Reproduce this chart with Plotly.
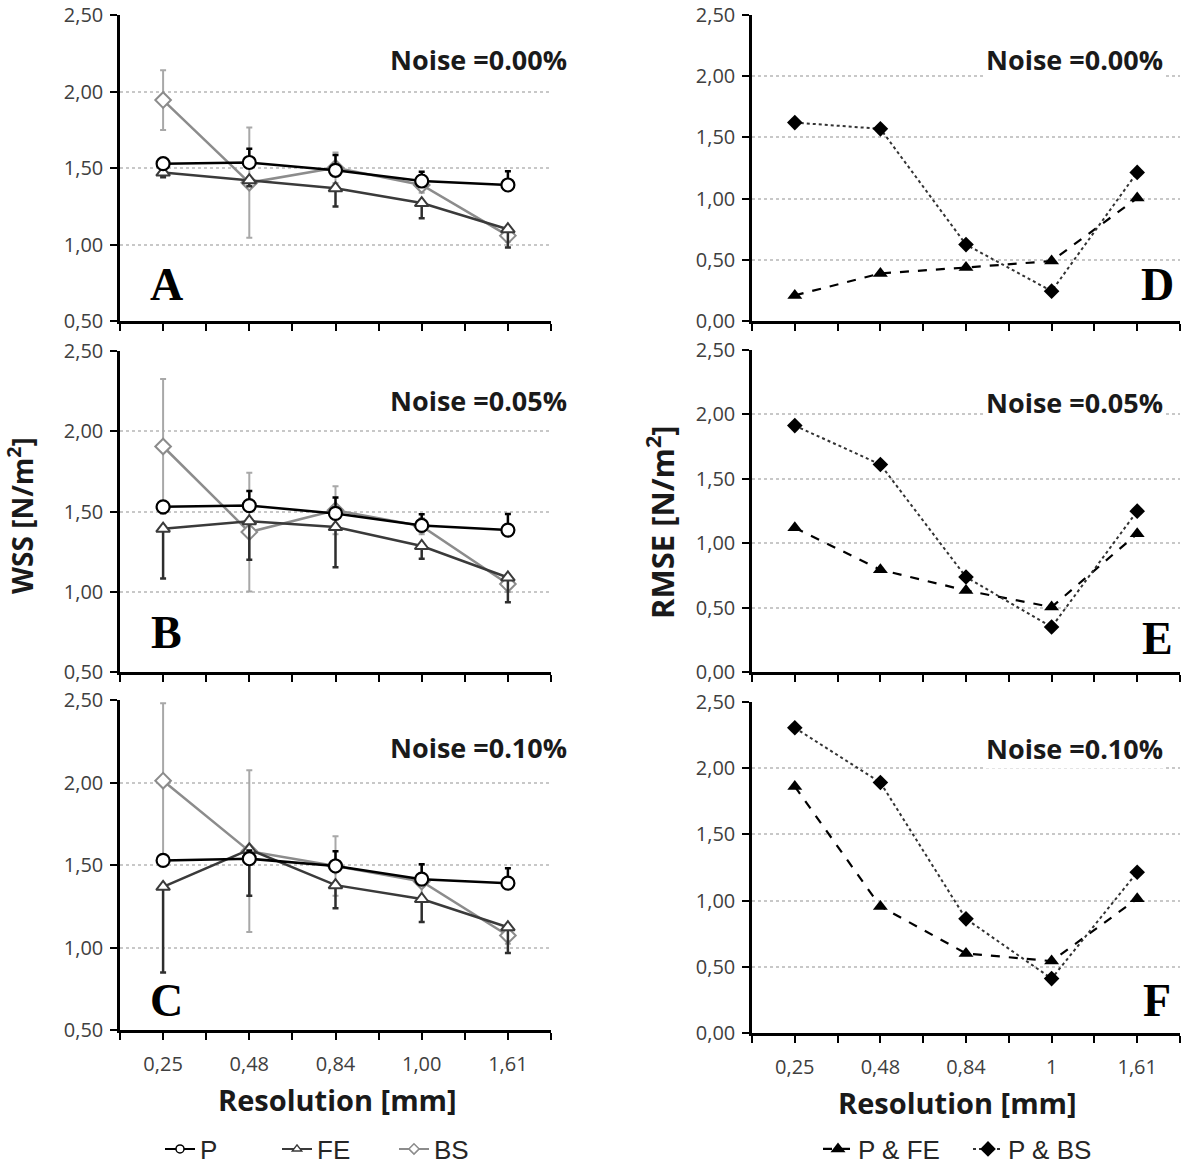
import plotly.graph_objects as go

# ---------------- data ----------------
categories = ["0,25", "0,48", "0,84", "1,00", "1,61"]
rmse_categories = ["0,25", "0,48", "0,84", "1", "1,61"]
y_ticks_wss = [0.5, 1.0, 1.5, 2.0, 2.5]
y_ticks_rmse = [0.0, 0.5, 1.0, 1.5, 2.0, 2.5]
noise_labels = ["Noise =0.00%", "Noise =0.05%", "Noise =0.10%"]
panel_letters_left = ["A", "B", "C"]
panel_letters_right = ["D", "E", "F"]

# WSS, noise 0.00 %
p_a = [1.528, 1.536, 1.485, 1.415, 1.389]
fe_a = [1.470, 1.420, 1.368, 1.271, 1.100]
bs_a = [1.944, 1.404, 1.502, 1.389, 1.058]
p_err_a = [0.03, 0.09, 0.10, 0.06, 0.09]
fe_err_a = [0.03, 0.04, 0.12, 0.10, 0.12]
bs_err_a = [0.195, 0.36, 0.10, 0.05, 0.04]

# WSS, noise 0.05 %
p_b = [1.529, 1.537, 1.488, 1.413, 1.384]
fe_b = [1.393, 1.440, 1.403, 1.285, 1.089]
bs_b = [1.905, 1.372, 1.508, 1.409, 1.048]
p_err_b = [0.03, 0.09, 0.10, 0.07, 0.10]
fe_err_b = [0.31, 0.24, 0.25, 0.08, 0.155]
bs_err_b = [0.42, 0.37, 0.15, 0.05, 0.05]

# WSS, noise 0.10 %
p_c = [1.528, 1.538, 1.494, 1.414, 1.390]
fe_c = [1.368, 1.594, 1.378, 1.294, 1.123]
bs_c = [2.011, 1.584, 1.494, 1.400, 1.073]
p_err_c = [0.03, 0.05, 0.09, 0.09, 0.09]
fe_err_c = [0.52, 0.28, 0.14, 0.14, 0.156]
bs_err_c = [0.47, 0.49, 0.18, 0.10, 0.05]

# RMSE
pfe_d = [0.209, 0.389, 0.437, 0.490, 1.005]
pbs_d = [1.621, 1.570, 0.624, 0.244, 1.214]
pfe_e = [1.119, 0.794, 0.633, 0.504, 1.073]
pbs_e = [1.913, 1.611, 0.737, 0.349, 1.249]
pfe_f = [1.862, 0.956, 0.601, 0.543, 1.014]
pbs_f = [2.305, 1.892, 0.862, 0.411, 1.214]

# ---------------- layout helpers ----------------
W, H = 1200, 1168
TICKFONT = dict(family="Open Sans", size=20, color="#404040")
x_idx = list(range(len(categories)))


def ydom(top_px, bottom_px):
    return [1 - bottom_px / H, 1 - top_px / H]


left_x = [120 / W, 551 / W]
right_x = [752 / W, 1180 / W]
left_y = [ydom(15, 321), ydom(351, 672), ydom(700, 1030)]
right_y = [ydom(15, 321), ydom(350, 672), ydom(702, 1033)]

fig = go.Figure()

wss_sets = [
    (p_a, fe_a, bs_a, p_err_a, fe_err_a, bs_err_a),
    (p_b, fe_b, bs_b, p_err_b, fe_err_b, bs_err_b),
    (p_c, fe_c, bs_c, p_err_c, fe_err_c, bs_err_c),
]
rmse_sets = [(pfe_d, pbs_d), (pfe_e, pbs_e), (pfe_f, pbs_f)]

for i, (p, fe, bs, pe, fee, bse) in enumerate(wss_sets):
    xa = "x" + ("" if i == 0 else str(i + 1))
    ya = "y" + ("" if i == 0 else str(i + 1))
    fig.add_trace(go.Scatter(
        x=x_idx, y=bs, xaxis=xa, yaxis=ya, name="BS", legend="legend",
        mode="lines+markers", showlegend=False,
        line=dict(color="#8c8c8c", width=2.5),
        marker=dict(symbol="diamond", size=12, color="white",
                    line=dict(color="#8c8c8c", width=2)),
        error_y=dict(type="data", array=bse, symmetric=True,
                     color="#a8a8a8", thickness=2, width=3)))
    fig.add_trace(go.Scatter(
        x=x_idx, y=fe, xaxis=xa, yaxis=ya, name="FE", legend="legend",
        mode="lines+markers", showlegend=False,
        line=dict(color="#3a3a3a", width=2.5),
        marker=dict(symbol="triangle-up", size=12, color="white",
                    line=dict(color="#3a3a3a", width=2)),
        error_y=dict(type="data", array=[0] * 5, arrayminus=fee,
                     symmetric=False, color="#2e2e2e", thickness=2.5, width=3)))
    fig.add_trace(go.Scatter(
        x=x_idx, y=p, xaxis=xa, yaxis=ya, name="P", legend="legend",
        mode="lines+markers", showlegend=False,
        line=dict(color="black", width=2.5),
        marker=dict(symbol="circle", size=13, color="white",
                    line=dict(color="black", width=2.2)),
        error_y=dict(type="data", array=pe, arrayminus=[0] * 5,
                     symmetric=False, color="black", thickness=2.5, width=3)))

# legend-only entries (ordered P, FE, BS)
fig.add_trace(go.Scatter(x=[None], y=[None], name="P", legend="legend",
                         mode="lines+markers", line=dict(color="black", width=2),
                         marker=dict(symbol="circle", size=8, color="white",
                                     line=dict(color="black", width=1.5))))
fig.add_trace(go.Scatter(x=[None], y=[None], name="FE", legend="legend",
                         mode="lines+markers", line=dict(color="#3a3a3a", width=2),
                         marker=dict(symbol="triangle-up", size=8, color="white",
                                     line=dict(color="#3a3a3a", width=1.5))))
fig.add_trace(go.Scatter(x=[None], y=[None], name="BS", legend="legend",
                         mode="lines+markers", line=dict(color="#8c8c8c", width=2),
                         marker=dict(symbol="diamond", size=8, color="white",
                                     line=dict(color="#8c8c8c", width=1.5))))

for i, (pfe, pbs) in enumerate(rmse_sets):
    xa = "x" + str(i + 4)
    ya = "y" + str(i + 4)
    show = i == 0
    fig.add_trace(go.Scatter(
        x=x_idx, y=pfe, xaxis=xa, yaxis=ya, name="P & FE", legend="legend2",
        mode="lines+markers", showlegend=show,
        line=dict(color="black", width=2.2, dash="dash"),
        marker=dict(symbol="triangle-up", size=13, color="black")))
    fig.add_trace(go.Scatter(
        x=x_idx, y=pbs, xaxis=xa, yaxis=ya, name="P & BS", legend="legend2",
        mode="lines+markers", showlegend=show,
        line=dict(color="#333333", width=2, dash="dot"),
        marker=dict(symbol="diamond", size=12, color="black")))

# ---------------- axes ----------------
boundary_ticks = [k + 0.5 for k in range(-1, len(categories))]


def xaxis_cfg(domain, anchor, labels, show_labels):
    return dict(domain=domain, anchor=anchor, range=[-0.5, 4.5],
                tickmode="array", tickvals=x_idx, ticktext=labels,
                showticklabels=show_labels,
                ticks="outside", ticklen=7, tickwidth=2, tickcolor="black",
                minor=dict(tickmode="array", tickvals=boundary_ticks,
                           ticks="outside", ticklen=7, tickwidth=2,
                           tickcolor="black", showgrid=False),
                showline=True, linecolor="black", linewidth=2.5,
                showgrid=False, zeroline=False, tickfont=TICKFONT,
                ticklabelstandoff=7, automargin=False,
                ticklabeloverflow="allow")


def yaxis_cfg(domain, anchor, rng, tvals):
    return dict(domain=domain, anchor=anchor, range=rng,
                tickmode="array", tickvals=tvals,
                ticktext=[f"{v:.2f}".replace(".", ",") for v in tvals],
                ticks="outside", ticklen=7, tickwidth=2, tickcolor="black",
                showline=True, linecolor="black", linewidth=2.5,
                showgrid=True, gridcolor="#c8c8c8", griddash="dot", gridwidth=1.5,
                zeroline=False, tickfont=TICKFONT, ticklabelstandoff=3,
                automargin=False, ticklabeloverflow="allow")


layout_axes = {}
for i in range(3):
    n = "" if i == 0 else str(i + 1)
    layout_axes["xaxis" + n] = xaxis_cfg(left_x, "y" + n, categories, i == 2)
    layout_axes["yaxis" + n] = yaxis_cfg(left_y[i], "x" + n, [0.5, 2.5], y_ticks_wss)
for i in range(3):
    n = str(i + 4)
    layout_axes["xaxis" + n] = xaxis_cfg(right_x, "y" + n, rmse_categories, i == 2)
    layout_axes["yaxis" + n] = yaxis_cfg(right_y[i], "x" + n, [0.0, 2.5], y_ticks_rmse)

fig.update_layout(**layout_axes)

# ---------------- annotations ----------------
ann = []
noise_y_left = [60, 400, 747]
noise_y_right = [60, 402, 748]
letter_y_left = [285, 632, 1000]
letter_y_right = [285, 638, 1000]
for i in range(3):
    ann.append(dict(xref="paper", yref="paper", x=569 / W, y=1 - noise_y_left[i] / H,
                    xanchor="right", yanchor="middle", showarrow=False,
                    text="<b>" + noise_labels[i] + "</b>",
                    font=dict(family="Open Sans", size=27, color="#1a1a1a")))
    ann.append(dict(xref="paper", yref="paper", x=1165 / W, y=1 - noise_y_right[i] / H,
                    xanchor="right", yanchor="middle", showarrow=False,
                    text="<b>" + noise_labels[i] + "</b>", bgcolor="white",
                    font=dict(family="Open Sans", size=27, color="#1a1a1a")))
    ann.append(dict(xref="paper", yref="paper", x=166 / W, y=1 - letter_y_left[i] / H,
                    xanchor="center", yanchor="middle", showarrow=False,
                    text="<b>" + panel_letters_left[i] + "</b>",
                    font=dict(family="Liberation Serif", size=46, color="black")))
    ann.append(dict(xref="paper", yref="paper", x=1157 / W, y=1 - letter_y_right[i] / H,
                    xanchor="center", yanchor="middle", showarrow=False,
                    text="<b>" + panel_letters_right[i] + "</b>",
                    font=dict(family="Liberation Serif", size=46, color="black")))

ann.append(dict(xref="paper", yref="paper", x=20 / W, y=1 - 516 / H, textangle=-90,
                xanchor="center", yanchor="middle", showarrow=False,
                text="<b>WSS [N/m<sup>2</sup>]</b>",
                font=dict(family="Open Sans", size=28, color="#1a1a1a")))
ann.append(dict(xref="paper", yref="paper", x=660 / W, y=1 - 522 / H, textangle=-90,
                xanchor="center", yanchor="middle", showarrow=False,
                text="<b>RMSE [N/m<sup>2</sup>]</b>",
                font=dict(family="Open Sans", size=31, color="#1a1a1a")))
ann.append(dict(xref="paper", yref="paper", x=337 / W, y=1 - 1099 / H,
                xanchor="center", yanchor="middle", showarrow=False,
                text="<b>Resolution [mm]</b>",
                font=dict(family="Open Sans", size=29, color="#1a1a1a")))
ann.append(dict(xref="paper", yref="paper", x=957 / W, y=1 - 1102 / H,
                xanchor="center", yanchor="middle", showarrow=False,
                text="<b>Resolution [mm]</b>",
                font=dict(family="Open Sans", size=29, color="#1a1a1a")))

fig.update_layout(
    width=W, height=H, margin=dict(l=0, r=0, t=0, b=0, autoexpand=False),
    paper_bgcolor="white", plot_bgcolor="white",
    annotations=ann,
    legend=dict(orientation="h", x=160 / W, xanchor="left", y=1 - 1149 / H,
                yanchor="middle", font=dict(family="Liberation Sans", size=26, color="#262626"),
                itemwidth=30, entrywidth=72, entrywidthmode="pixels",
                bgcolor="rgba(0,0,0,0)"),
    legend2=dict(orientation="h", x=818 / W, xanchor="left", y=1 - 1149 / H,
                 yanchor="middle", font=dict(family="Liberation Sans", size=26, color="#262626"),
                 itemwidth=30, entrywidth=105, entrywidthmode="pixels",
                 bgcolor="rgba(0,0,0,0)"),
)

fig.write_html("out.html", config={"displayModeBar": False},
               post_script="document.body.style.margin='0';document.body.style.overflow='hidden';")
